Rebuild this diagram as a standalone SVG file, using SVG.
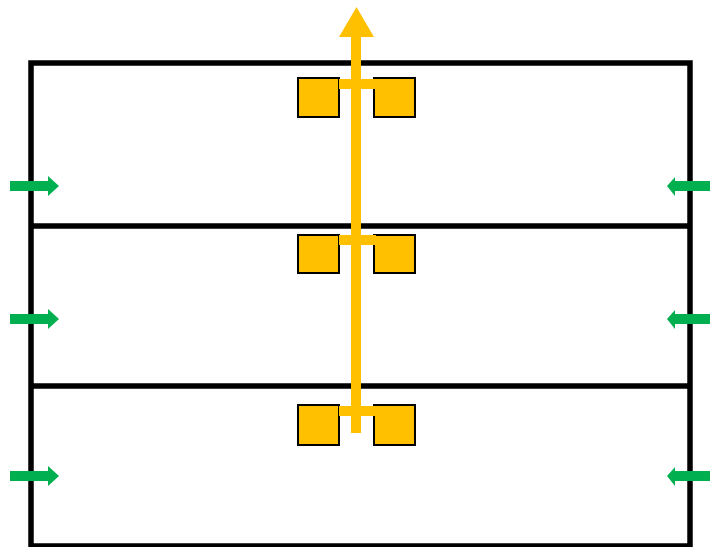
<svg xmlns="http://www.w3.org/2000/svg" width="710" height="547" viewBox="0 0 710 547">
<style>
.frame{fill:none;stroke:#000;stroke-width:5.5}
.sq{fill:#FFC000;stroke:#000;stroke-width:2}
.y{fill:#FFC000}
.g{fill:#00B050}
</style>
<defs>
<path id="ar" class="g" d="M10,181 H48 V176 L59,186 L48,196 V191 H10 Z"/>
<path id="al" class="g" d="M710,181 H675 V177 L667,186 L675,196 V191 H710 Z"/>
</defs>
<g id="building">
<rect class="frame" x="31" y="63" width="659" height="483"/>
<line class="frame" x1="31" y1="226" x2="690" y2="226"/>
<line class="frame" x1="31" y1="386" x2="690" y2="386"/>
</g>
<g id="floor1">
<rect class="sq" x="298" y="78" width="41" height="39"/>
<rect class="sq" x="374" y="78" width="41" height="39"/>
<rect class="y" x="339" y="79" width="37" height="10"/>
</g>
<g id="floor2">
<rect class="sq" x="298" y="235" width="41" height="38"/>
<rect class="sq" x="374" y="235" width="41" height="38"/>
<rect class="y" x="339" y="235" width="37" height="10"/>
</g>
<g id="floor3">
<rect class="sq" x="298" y="405" width="41" height="40"/>
<rect class="sq" x="374" y="405" width="41" height="40"/>
<rect class="y" x="339" y="406" width="37" height="10"/>
</g>
<g id="connectors">
<rect class="y" x="351" y="34" width="10" height="399"/>
<polygon class="y" points="339,37 356.5,7 374,37"/>
<use href="#ar" fill="#00B050"/>
<use href="#ar" y="133"/>
<use href="#ar" y="290"/>
<use href="#al"/>
<use href="#al" y="133"/>
<use href="#al" y="290"/>
</g>
</svg>
